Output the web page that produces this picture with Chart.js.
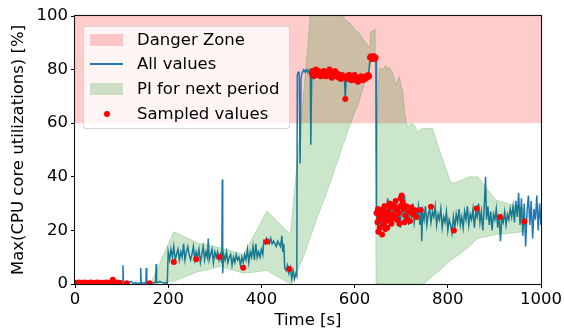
<!DOCTYPE html>
<html>
<head>
<meta charset="utf-8">
<script src="https://cdn.jsdelivr.net/npm/chart.js@4.4.1/dist/chart.umd.min.js"></script>
<style>
  body { margin: 0; background: #fff; }
  #wrap { position: relative; width: 564px; height: 331px; }
  #legend {
    position: absolute; left: 83px; top: 26px; width: 205px; height: 101px;
    background: rgba(255, 255, 255, 0.8); border: 1px solid rgba(204, 204, 204, 0.8);
    border-radius: 3px; font-family: "DejaVu Sans", sans-serif; font-size: 16.5px; color: #000;
  }
  .item { position: absolute; left: 0; height: 20px; line-height: 20px; width: 100%; }
  .item .label { position: absolute; left: 53px; top: 0; white-space: nowrap; }
  .patch { position: absolute; left: 6px; top: 4px; width: 33px; height: 12px; }
  .danger { background: rgba(255, 0, 0, 0.2); }
  .pi { background: rgba(0, 128, 0, 0.2); }
  .line { position: absolute; left: 6px; top: 9px; width: 33px; height: 1.5px; background: #1f77b4; }
  .dot { position: absolute; left: 20px; top: 7px; width: 6px; height: 6px; border-radius: 50%; background: red; }
</style>
</head>
<body>
<div id="wrap">
  <canvas id="chart" width="564" height="331"></canvas>
  <div id="legend">
    <div class="item" style="top:3px"><span class="patch danger"></span><span class="label">Danger Zone</span></div>
    <div class="item" style="top:27px"><span class="line"></span><span class="label">All values</span></div>
    <div class="item" style="top:52px"><span class="patch pi"></span><span class="label">PI for next period</span></div>
    <div class="item" style="top:77px"><span class="dot"></span><span class="label">Sampled values</span></div>
  </div>
</div>
<script>
// axis ranges and ticks
const xRange = [0, 1000];
const yRange = [0, 100];
const xTicks = [0, 200, 400, 600, 800, 1000];
const yTicks = [0, 20, 40, 60, 80, 100];
const dangerRange = [60, 100];

// "All values" trace (time in s, max core utilisation in %)
const lineTime = [
  0, 4, 8, 12, 16, 20, 24, 28, 32, 36, 40, 44, 48, 52, 56, 60, 64, 68, 72, 76, 80, 84, 88, 92, 96, 100,
  102, 103, 104, 108, 112, 116, 120, 124, 128, 132, 136, 140, 141, 142, 143, 146, 150, 152, 153, 154,
  158, 162, 166, 170, 173, 174, 175, 178, 182, 186, 190, 194, 198,
  200, 203, 206, 209, 212, 215, 218, 221, 224, 227, 230, 233, 236, 239, 242, 245, 248, 251, 254, 257,
  260, 263, 266, 269, 272, 275, 278, 281, 284, 286, 288, 291, 294, 297, 300, 303, 306, 309, 312, 315,
  316, 317, 319, 322, 325, 328, 331, 334, 337, 340, 343, 346, 349, 352, 355, 358, 361, 364, 367, 370,
  373, 376, 379, 382, 385, 388, 391, 394, 397, 400, 403, 405, 408, 411, 414, 417, 420, 423, 426, 429,
  432, 435, 438, 441, 444, 446, 448, 450, 453, 456, 459, 462, 465, 468, 471, 474, 476,
  477, 479, 481, 483, 485, 488, 491, 494, 497, 500, 503, 505, 506, 508,
  510, 514, 518, 522, 526, 530, 534, 538, 542, 546, 550, 554, 558, 562, 566, 570, 574, 578, 580, 582,
  586, 590, 594, 598, 602, 606, 610, 614, 618, 622, 626, 630, 633, 636, 640, 644, 646,
  647, 650, 653, 656, 659, 662, 665, 668, 671, 674, 677, 680, 683, 686, 689, 692, 695, 698, 701, 704,
  707, 710, 713, 716, 719, 722, 725, 728, 731, 734, 737, 740, 743, 744, 746, 749, 752, 755, 758, 761,
  764, 767, 770, 773, 776, 779, 782, 785, 788, 791, 794, 797, 800, 803, 806, 809, 812, 815, 818, 821,
  824, 827, 830, 833, 836, 839, 842, 845, 848, 851, 854, 857, 860, 863, 866, 869, 872, 875, 878, 881,
  883, 886, 889, 892, 895, 898, 901, 904, 907, 910, 913, 916, 919, 922, 925, 928, 931, 934, 937, 940,
  943, 946, 949, 952, 955, 958, 961, 964, 967, 970, 973, 976, 979, 982, 985, 988, 991, 994, 997, 1000
];
const lineValues = [
  0.4, 0.6, 0.3, 0.5, 0.7, 0.4, 0.5, 0.3, 0.6, 0.4, 0.5, 0.7, 0.3, 0.5, 0.4, 0.6, 0.4, 0.5, 0.8, 0.4, 1.2, 0.5, 0.4, 0.6, 0.3, 0.5,
  0.4, 7, 0.5, 0.3, 0.6, 0.4, 1.0, 0.3, 0.5, 0.4, 0.3, 0.4, 6, 0.5, 0.3, 0.4, 0.5, 0.3, 6, 0.4,
  0.3, 0.5, 0.4, 0.6, 0.5, 7.5, 0.8, 0.5, 1.0, 0.6, 0.4, 0.5, 0.3,
  12, 9, 13, 10, 14, 9, 11, 13, 9, 12, 10, 15, 9, 12, 14, 11, 9, 11, 14, 9,
  12, 10, 13, 8, 11, 14, 9, 12, 10, 17, 9, 11, 13, 8, 12, 10, 12, 9, 11, 8,
  39, 4, 11, 9, 12, 8, 10, 11, 7, 10, 8, 11, 9, 10, 7, 10, 8, 11, 9, 13,
  8, 12, 10, 14, 9, 15, 10, 12, 10, 13, 11, 16, 15, 17, 16, 15, 17, 15, 16, 15,
  14, 16, 15, 14, 18, 12, 15, 6, 5, 7, 4, 6, 2, 5, 2, 4, 3,
  78, 79, 79, 45, 77, 79, 80, 79, 80, 79, 80, 80, 52, 79,
  78, 79, 77.5, 79, 78, 79.5, 77, 78.5, 79, 77.5, 78, 79, 77, 78.5, 77.5, 78, 77, 77.5, 69, 77,
  78, 77, 78.5, 77, 77.5, 78, 77, 78, 77.5, 78, 77, 78, 84, 85, 84.5, 84, 84,
  26, 22, 28, 20, 25, 30, 23, 27, 32, 24, 28, 22, 29, 25, 31, 24, 27, 21, 29, 26,
  33, 24, 27, 22, 28, 25, 30, 23, 27, 25, 29, 22, 28, 16, 27, 24, 29, 22, 26, 28,
  23, 27, 25, 29, 22, 26, 24, 28, 21, 25, 23, 27, 20, 24, 22, 19, 25, 21, 26, 23,
  28, 22, 25, 21, 27, 24, 29, 22, 26, 24, 28, 21, 27, 25, 30, 23, 27, 20, 28, 40,
  24, 29, 22, 27, 20, 26, 24, 28, 21, 26, 16, 25, 23, 27, 22, 26, 24, 28, 25, 29,
  23, 31, 25, 34, 22, 32, 18, 30, 14, 27, 33, 22, 31, 17, 28, 24, 33, 20, 30, 22
];

// "Sampled values"
const sampleTime = [
  0, 3, 6, 9, 12, 15, 18, 21, 24, 27, 30, 33, 36, 39, 42, 45, 48, 51, 54, 57, 60, 63, 66, 69, 72, 75, 78,
  81, 84, 87, 90, 93, 96, 111, 160,
  212, 260, 310, 361, 412, 460,
  508, 510, 512, 515, 517, 520, 522, 524, 527, 529, 532, 534, 537, 539, 541, 544, 546, 549, 551, 554,
  556, 558, 561, 563, 566, 568, 571, 573, 575, 580, 583, 585, 588, 590, 593, 595, 597, 600, 602, 605,
  607, 610, 612, 614, 617, 619, 622, 624, 627, 629, 631,
  633, 635, 637, 639, 641, 643, 645,
  647, 649, 650, 651, 653, 654, 656, 657, 659, 660, 661, 663, 664, 666, 667, 668, 670, 671, 673, 675,
  676, 678, 679, 681, 683, 684, 686, 688, 689, 691, 692, 694, 696, 698, 699, 701, 703, 705, 707, 709,
  711, 713, 716, 719, 722, 726, 730, 732,
  742, 764, 813, 862, 912, 964
];
const sampleValues = [
  0.4, 0.5, 0.3, 0.6, 0.4, 0.5, 0.4, 0.6, 0.3, 0.5, 0.4, 0.6, 0.5, 0.3, 0.5, 0.4, 0.6, 0.4, 0.5, 0.3, 0.5, 0.4, 0.6, 0.4, 0.5, 0.3, 0.6,
  1.6, 0.5, 0.4, 0.6, 0.3, 0.5, 0.3, 0.3,
  8.2, 9.2, 10.1, 6.1, 15.9, 5.6,
  78.5, 79.5, 77.5, 79, 80, 78, 79.5, 78.5, 77.5, 79, 78, 79.5, 78.5, 77.5, 79, 78, 80, 78.5, 77, 79,
  78, 79.5, 77.5, 78.5, 77, 78, 76.5, 78, 77, 69, 77.5, 76.5, 78, 77, 76, 77.5, 76.5, 78, 76, 77,
  75.5, 77, 76, 77.5, 76, 77, 76.5, 77.5, 77, 78, 77.5,
  84.5, 85, 84, 84.5, 85, 84, 84.5,
  26.5, 23, 28, 19.5, 24.5, 21, 27.5, 25.5, 18.5, 24, 27.5, 22, 29, 20.5, 26, 23.5, 21, 27, 25, 30,
  24, 28.5, 22.5, 26, 24.5, 29.5, 25, 31, 28, 24, 28, 26.5, 22.5, 29, 32, 33, 30.5, 28, 23, 25.5,
  29, 24, 27, 23.5, 28.5, 26, 27.5, 25,
  27.6, 28.8, 20, 28.2, 25, 23.3
];

// "PI for next period" band
const piTime = [
  162, 212, 262, 312, 362, 412, 462, 470, 480, 490, 500, 506, 520, 540, 560, 575, 578, 585, 592, 600,
  608, 616, 624, 632, 635, 644, 646, 650, 653, 660, 667, 671, 674, 682, 689, 696, 700, 703, 707, 710,
  714, 721, 728, 735, 746, 749, 767, 782, 807, 824, 846, 864, 903, 964
];
const piUpper = [
  0, 19.5, 15.4, 13.5, 11, 27.2, 18.5, 33, 52, 70, 90, 104, 112, 112, 112, 105, 99, 98, 97, 95,
  94, 92, 90, 88, 94, 95, 50, 70, 80.5, 80, 81.7, 80, 81, 78.6, 74.3, 77.4, 73.6, 72.4, 65, 61,
  58.7, 60, 59.3, 56.8, 58, 58, 58, 50, 37.6, 38.2, 40, 40, 31.3, 28.2
];
const piLower = [
  0, 1, 4.5, 6.5, 4, 5, 0, 1, 6, 10, 15, 18, 25, 34, 44, 52, 53, 57, 60, 64,
  67, 72, 76, 80, 83, 86, 0, 0, 0, 0, 0, 0, 0, 0, 0, 0, 0, 0, 0, 0,
  0, 0, 0, 0, 0, 0, 3, 5, 9, 11, 14, 17, 18.5, 19.5
];

const toPoints = (xs, ys) => xs.map((x, i) => ({ x: x, y: ys[i] }));

const font = { family: 'DejaVu Sans', size: 16.5 };

// black frame round the plot area, like matplotlib spines
const framePlugin = {
  id: 'frame',
  afterDatasetsDraw(chart) {
    const { ctx, chartArea: a } = chart;
    ctx.save();
    ctx.strokeStyle = '#111';
    ctx.lineWidth = 1.1;
    ctx.strokeRect(a.left - 0.5, a.top - 0.5, a.right - a.left + 1, a.bottom - a.top + 1);
    ctx.restore();
  }
};

new Chart(document.getElementById('chart'), {
  type: 'scatter',
  data: {
    datasets: [
      {
        label: 'Danger Zone',
        data: xRange.map(x => ({ x: x, y: dangerRange[1] })),
        showLine: true,
        borderWidth: 0,
        pointRadius: 0,
        backgroundColor: 'rgba(255, 0, 0, 0.2)',
        fill: { value: dangerRange[0] },
        order: 4
      },
      {
        label: 'All values',
        data: toPoints(lineTime, lineValues),
        showLine: true,
        borderColor: '#1f77b4',
        borderWidth: 1.5,
        pointRadius: 0,
        fill: false,
        order: 3
      },
      {
        label: 'PI for next period',
        data: toPoints(piTime, piUpper),
        showLine: true,
        borderColor: 'rgba(0, 128, 0, 0.2)',
        borderWidth: 1,
        backgroundColor: 'rgba(0, 128, 0, 0.2)',
        pointRadius: 0,
        fill: '+1',
        order: 2
      },
      {
        label: 'PI lower',
        data: toPoints(piTime, piLower),
        showLine: true,
        borderColor: 'rgba(0, 128, 0, 0.2)',
        borderWidth: 1,
        pointRadius: 0,
        fill: false,
        order: 2
      },
      {
        label: 'Sampled values',
        data: toPoints(sampleTime, sampleValues),
        showLine: false,
        pointRadius: 3,
        borderWidth: 0,
        backgroundColor: '#ff0000',
        clip: 0,
        order: 1
      }
    ]
  },
  options: {
    responsive: false,
    animation: false,
    layout: { padding: { left: 0, right: 22, top: 16, bottom: 0 } },
    plugins: {
      legend: { display: false },
      tooltip: { enabled: false }
    },
    scales: {
      x: {
        type: 'linear',
        min: xRange[0],
        max: xRange[1],
        afterBuildTicks: s => { s.ticks = xTicks.map(v => ({ value: v })); },
        afterFit: s => { s.height = 47; },
        border: { display: false },
        grid: { drawOnChartArea: false, drawTicks: true, tickLength: 4, tickColor: '#000', color: '#000' },
        ticks: { font: font, color: '#000', padding: 2, maxRotation: 0, callback: v => String(v) },
        title: { display: true, text: 'Time [s]', font: font, color: '#000', padding: { top: 0, bottom: 0 } }
      },
      y: {
        min: yRange[0],
        max: yRange[1],
        afterBuildTicks: s => { s.ticks = yTicks.map(v => ({ value: v })); },
        afterFit: s => { s.width = 75; },
        border: { display: false },
        grid: { drawOnChartArea: false, drawTicks: true, tickLength: 4, tickColor: '#000', color: '#000' },
        ticks: { font: font, color: '#000', padding: 3, callback: v => String(v) },
        title: { display: true, text: 'Max(CPU core utilizations) [%]', font: font, color: '#000', padding: { top: 9, bottom: 0 } }
      }
    }
  },
  plugins: [framePlugin]
});
</script>
</body>
</html>
